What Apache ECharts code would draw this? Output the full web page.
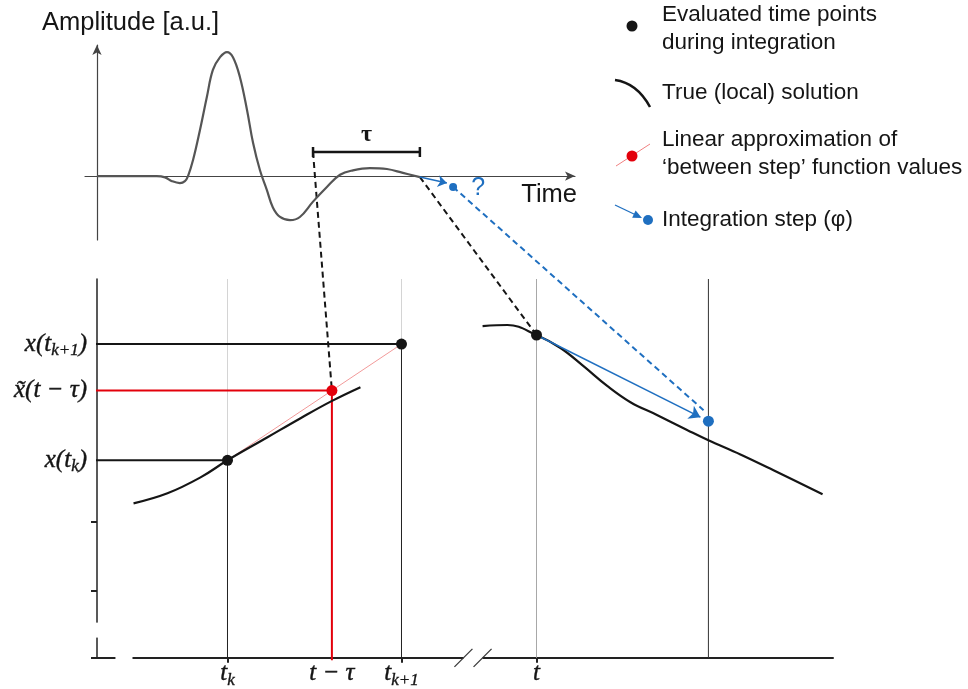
<!DOCTYPE html>
<html>
<head>
<meta charset="utf-8">
<title>Delay integration sketch</title>
<script src="https://cdn.jsdelivr.net/npm/echarts@6/dist/echarts.min.js"></script>
<style>
  html, body { margin: 0; padding: 0; background: #fff; }
  #chart { width: 968px; height: 689px; }
</style>
</head>
<body>
<div id="chart"></div>
<script>
// ---- top panel: the signal (arbitrary time units, amplitude a.u.)
const waveT = [0, 1.4, 2.5, 2.85, 3.14, 3.47, 3.68, 3.81, 4.02, 4.31, 4.60, 4.85, 5.15, 5.44, 5.69, 5.98, 6.28, 6.53, 6.82, 7.11, 7.36, 7.66, 8.08, 8.49, 9.04, 9.62, 10.17, 10.71, 11.42, 12.13, 12.80, 13.51];
const waveA = [0, 0, 0, -0.02, -0.08, -0.11, -0.08, 0, 0.25, 0.72, 1.24, 1.66, 1.86, 1.94, 1.86, 1.55, 1.03, 0.52, 0.09, -0.22, -0.49, -0.64, -0.69, -0.64, -0.40, -0.17, 0.02, 0.09, 0.125, 0.11, 0.05, -0.016];
const tauSpan = [9.04, 13.51];      // t - tau  ...  t
const tauBarA = 0.376;
const nowTop = [13.51, -0.016];
const stepTopTip = [14.64, -0.11];
const stepTopDot = [14.9, -0.17];
const questionAt = [15.95, -0.19];

// ---- bottom panel: zoom on the integration step
const evalT = [1, 2, 2.776];        // t_k, t_k+1, t
const evalX = [1, 2, 2.078];
const delayT = 1.6, delayX = 1.6;   // linear approx at t - tau
const stepT = 3.764, stepX = 1.336; // result of the step
const stepTip = [3.718, 1.371];
const stepDashEnd = [3.736, 1.431];
const leftCurveT = [0.460, 0.655, 0.845, 1.0, 1.230, 1.420, 1.598, 1.764];
const leftCurveX = [0.629, 0.716, 0.853, 1.0, 1.198, 1.362, 1.509, 1.629];
const rightCurveT = [2.466, 2.609, 2.776, 2.914, 3.046, 3.184, 3.316, 3.471, 3.644, 3.764, 3.948, 4.138, 4.420];
const rightCurveX = [2.155, 2.164, 2.078, 1.966, 1.810, 1.638, 1.5, 1.388, 1.259, 1.172, 1.05, 0.914, 0.707];

const xLabelVals = [1, 1.6, 2, 2.776];
const xLabelText = ['{m|t}{s|k}', '{m|t − τ}', '{m|t}{s|k+1}', '{m|t}'];
const xTickVals = [1, 2, 2.776];
const yLabelVals = [1, 1.6, 2];
const yLabelText = ['{m|x(t}{s|k}{m|)}', '{m|x̃(t − τ)}', '{m|x(t}{s|k+1}{m|)}'];
const yTickVals = [-0.7, -0.12, 0.47];
const xAxisGap = [0.356, 0.454];
const xAxisBreak = [2.356, 2.466];
const yAxisGap = [-0.526, -0.397];

const B_XMIN = 0.25, B_XMAX = 4.48, B_YMIN = -0.7, B_YMAX = 2.56;
const LEAD = 0.04; // horizontal guides start a bit left of the y axis

const SANS = '"Liberation Sans", Arial, sans-serif';
const SERIF = '"Liberation Serif", serif';
const BLUE = '#1f6fc0', RED = '#e3000b', INK = '#151515';

const zip = (a, b) => a.map((v, i) => [v, b[i]]);

const chart = echarts.init(document.getElementById('chart'));

function seg(pts, color, width, z, type) {
  return {
    type: 'line', xAxisIndex: 1, yAxisIndex: 1, data: pts, symbol: 'none',
    lineStyle: {color: color, width: width, type: type || 'solid'},
    z: z, silent: true, clip: false
  };
}

function dots(grid, pts, color, size) {
  return {
    type: 'scatter', xAxisIndex: grid, yAxisIndex: grid, data: pts,
    symbolSize: size, itemStyle: {color: color, opacity: 1}, z: 8
  };
}

const richLabel = {
  m: {fontFamily: SERIF, fontStyle: 'italic', fontSize: 25, lineHeight: 30, color: INK,
      textBorderColor: INK, textBorderWidth: 0.4},
  s: {fontFamily: SERIF, fontStyle: 'italic', fontSize: 17, lineHeight: 19, verticalAlign: 'bottom', color: INK,
      textBorderColor: INK, textBorderWidth: 0.35}
};

chart.setOption({
  animation: false,
  grid: [
    {left: 85, right: 393, top: 45, bottom: 449},
    {left: 97, right: 135, top: 279, bottom: 31}
  ],
  xAxis: [
    {
      gridIndex: 0, type: 'value', min: -0.5, max: 20,
      axisLine: {onZero: true, symbol: ['none', 'arrow'], symbolSize: [7, 10], lineStyle: {color: '#444', width: 1.2}},
      axisTick: {show: false}, axisLabel: {show: false}, splitLine: {show: false}
    },
    {
      gridIndex: 1, type: 'value', min: B_XMIN, max: B_XMAX,
      axisLine: {onZero: false, lineStyle: {color: '#222', width: 2}},
      axisTick: {customValues: xTickVals, length: 5, lineStyle: {color: '#222', width: 2}},
      axisLabel: {
        customValues: xLabelVals, margin: 1, rich: richLabel,
        formatter: v => xLabelText[xLabelVals.indexOf(v)] || ''
      },
      splitLine: {show: false}
    }
  ],
  yAxis: [
    {
      gridIndex: 0, type: 'value', min: -1, max: 2.05,
      axisLine: {onZero: true, symbol: ['none', 'arrow'], symbolSize: [7, 10], lineStyle: {color: '#444', width: 1.2}},
      axisTick: {show: false}, axisLabel: {show: false}, splitLine: {show: false}
    },
    {
      gridIndex: 1, type: 'value', min: B_YMIN, max: B_YMAX,
      axisLine: {onZero: false, lineStyle: {color: '#222', width: 1.5}},
      axisTick: {customValues: yTickVals, length: 6, lineStyle: {color: '#222', width: 2}},
      axisLabel: {
        customValues: yLabelVals, margin: 10, rich: richLabel,
        formatter: v => yLabelText[yLabelVals.indexOf(v)] || ''
      },
      splitLine: {show: false}
    }
  ],
  series: [
    // top: waveform
    {
      type: 'line', xAxisIndex: 0, yAxisIndex: 0, data: zip(waveT, waveA),
      smooth: 0.4, symbol: 'none', lineStyle: {color: '#555', width: 2.2}, z: 3
    },
    // top: tau bracket
    {
      type: 'custom', xAxisIndex: 0, yAxisIndex: 0, clip: false, z: 5,
      data: [[tauSpan[0], tauSpan[1], tauBarA]],
      renderItem(params, api) {
        const a = api.coord([api.value(0), api.value(2)]);
        const b = api.coord([api.value(1), api.value(2)]);
        const st = {stroke: INK, lineWidth: 2.5};
        return {type: 'group', children: [
          {type: 'line', shape: {x1: a[0], y1: a[1], x2: b[0], y2: b[1]}, style: st},
          {type: 'line', shape: {x1: a[0], y1: a[1] - 5, x2: a[0], y2: a[1] + 5}, style: st},
          {type: 'line', shape: {x1: b[0], y1: b[1] - 5, x2: b[0], y2: b[1] + 5}, style: st},
          {type: 'text', style: {
            x: (a[0] + b[0]) / 2, y: a[1] - 5, text: 'τ', font: 'bold 24px ' + SERIF, fill: INK,
            align: 'center', verticalAlign: 'bottom', textAlign: 'center', textVerticalAlign: 'bottom'
          }}
        ]};
      }
    },
    // top: step arrow + point
    {
      type: 'lines', coordinateSystem: 'cartesian2d', xAxisIndex: 0, yAxisIndex: 0,
      data: [{coords: [nowTop, stepTopTip]}], symbol: ['none', 'arrow'], symbolSize: 9,
      lineStyle: {color: BLUE, width: 1.5, opacity: 1}, z: 6
    },
    dots(0, [stepTopDot], BLUE, 8),

    // bottom: guide lines
    seg([[evalT[0], B_YMAX], [evalT[0], evalX[0]]], '#d4d4d4', 1, 1),
    seg([[evalT[1], B_YMAX], [evalT[1], evalX[1]]], '#d4d4d4', 1, 1),
    seg([[evalT[2], B_YMAX], [evalT[2], B_YMIN]], '#a8a8a8', 1, 1),
    seg([[evalT[0], evalX[0]], [evalT[0], B_YMIN]], '#222', 1, 2),
    seg([[evalT[1], evalX[1]], [evalT[1], B_YMIN]], '#222', 1, 2),
    seg([[stepT, B_YMAX], [stepT, B_YMIN]], '#333', 1, 2),
    seg([[B_XMIN - LEAD, evalX[0]], [evalT[0], evalX[0]]], INK, 2, 3),
    seg([[B_XMIN - LEAD, evalX[1]], [evalT[1], evalX[1]]], INK, 2, 3),
    seg([[B_XMIN - LEAD, delayX], [delayT, delayX]], RED, 2, 4),
    seg([[delayT, delayX], [delayT, B_YMIN - 0.02]], RED, 2, 4),
    // linear approximation between steps
    seg([[evalT[0], evalX[0]], [evalT[1], evalX[1]]], '#f29a9a', 1, 4),
    // true (local) solutions
    {
      type: 'line', xAxisIndex: 1, yAxisIndex: 1, data: zip(leftCurveT, leftCurveX),
      smooth: 0.4, symbol: 'none', lineStyle: {color: INK, width: 2.2}, z: 5
    },
    {
      type: 'line', xAxisIndex: 1, yAxisIndex: 1, data: zip(rightCurveT, rightCurveX),
      smooth: 0.4, symbol: 'none', lineStyle: {color: INK, width: 2.2}, z: 5
    },
    // integration step arrow
    {
      type: 'lines', coordinateSystem: 'cartesian2d', xAxisIndex: 1, yAxisIndex: 1,
      data: [{coords: [[evalT[2], evalX[2]], stepTip]}], symbol: ['none', 'arrow'], symbolSize: 11,
      lineStyle: {color: BLUE, width: 1.5, opacity: 1}, z: 6
    },
    // points
    dots(1, zip(evalT, evalX), INK, 11),
    dots(1, [[delayT, delayX]], RED, 11),
    dots(1, [[stepT, stepX]], BLUE, 11),
    // axis gaps and the break on the time axis
    {
      type: 'custom', xAxisIndex: 1, yAxisIndex: 1, clip: false, z: 9,
      data: [xAxisGap],
      renderItem(params, api) {
        const a = api.coord([api.value(0), B_YMIN]);
        const b = api.coord([api.value(1), B_YMIN]);
        return {type: 'rect', shape: {x: a[0], y: a[1] - 3, width: b[0] - a[0], height: 6}, style: {fill: '#fff'}};
      }
    },
    {
      type: 'custom', xAxisIndex: 1, yAxisIndex: 1, clip: false, z: 9,
      data: [xAxisBreak],
      renderItem(params, api) {
        const a = api.coord([api.value(0), B_YMIN]);
        const b = api.coord([api.value(1), B_YMIN]);
        const st = {stroke: '#333', lineWidth: 1.2};
        return {type: 'group', children: [
          {type: 'rect', shape: {x: a[0], y: a[1] - 3, width: b[0] - a[0], height: 6}, style: {fill: '#fff'}},
          {type: 'line', shape: {x1: a[0] - 9, y1: a[1] + 9, x2: a[0] + 9, y2: a[1] - 9}, style: st},
          {type: 'line', shape: {x1: b[0] - 9, y1: b[1] + 9, x2: b[0] + 9, y2: b[1] - 9}, style: st}
        ]};
      }
    },
    {
      type: 'custom', xAxisIndex: 1, yAxisIndex: 1, clip: false, z: 9,
      data: [[B_XMIN, yAxisGap[0], yAxisGap[1]]],
      renderItem(params, api) {
        const a = api.coord([B_XMIN, api.value(1)]);
        const b = api.coord([B_XMIN, api.value(2)]);
        return {type: 'rect', shape: {x: a[0] - 3, y: b[1], width: 6, height: a[1] - b[1]}, style: {fill: '#fff'}};
      }
    }
  ]
});

// connectors between the two panels and the legend
const toTop = pt => chart.convertToPixel({gridIndex: 0}, pt);
const toBot = pt => chart.convertToPixel({gridIndex: 1}, pt);

const connectors = [
  {from: toTop([tauSpan[0], tauBarA]), to: toBot([delayT, delayX]), color: INK},
  {from: toTop(nowTop), to: toBot([evalT[2], evalX[2]]), color: INK},
  {from: toTop(stepTopDot), to: toBot(stepDashEnd), color: BLUE}
];

function arrowHead(x1, y1, x2, y2, len, half) {
  const d = Math.hypot(x2 - x1, y2 - y1), ux = (x2 - x1) / d, uy = (y2 - y1) / d;
  const bx = x2 - ux * len, by = y2 - uy * len;
  return [[x2, y2], [bx - uy * half, by + ux * half], [bx + uy * half, by - ux * half]];
}

function txt(x, y, text, size, color, align, vAlign, lh) {
  return {type: 'text', z: 20, style: {
    x: x, y: y, text: text, font: size + 'px ' + SANS, fill: color || INK,
    lineHeight: lh, textAlign: align || 'left', textVerticalAlign: vAlign || 'middle',
    align: align || 'left', verticalAlign: vAlign || 'middle'
  }};
}

const q = toTop(questionAt);

chart.setOption({
  graphic: [
    ...connectors.map(c => ({
      type: 'line', z: 1,
      shape: {x1: c.from[0], y1: c.from[1], x2: c.to[0], y2: c.to[1]},
      style: {stroke: c.color, lineWidth: 2, lineDash: [6, 4]}
    })),
    txt(42, 23, 'Amplitude [a.u.]', 25.5),
    txt(577, 195, 'Time', 25.5, INK, 'right'),
    txt(q[0], q[1], '?', 25, BLUE, 'center'),

    // legend
    {type: 'circle', z: 20, shape: {cx: 632, cy: 26, r: 5.5}, style: {fill: INK}},
    txt(662, 1, 'Evaluated time points\nduring integration', 22.5, INK, 'left', 'top', 28),
    {type: 'bezierCurve', z: 20, shape: {x1: 615, y1: 80, x2: 650, y2: 107, cpx1: 637, cpy1: 83}, style: {stroke: INK, lineWidth: 2.5, fill: null}},
    txt(662, 93, 'True (local) solution', 22.5),
    {type: 'line', z: 20, shape: {x1: 616, y1: 166, x2: 650, y2: 144}, style: {stroke: '#f08080', lineWidth: 1}},
    {type: 'circle', z: 21, shape: {cx: 632, cy: 156, r: 5.5}, style: {fill: RED}},
    txt(662, 126, 'Linear approximation of\n‘between step’ function values', 22.5, INK, 'left', 'top', 28),
    {type: 'line', z: 20, shape: {x1: 615, y1: 205, x2: 636, y2: 215}, style: {stroke: BLUE, lineWidth: 1.3}},
    {type: 'polygon', z: 20, shape: {points: arrowHead(615, 205, 642, 218, 9, 4)}, style: {fill: BLUE}},
    {type: 'circle', z: 20, shape: {cx: 648, cy: 220, r: 5}, style: {fill: BLUE}},
    txt(662, 220, 'Integration step (φ)', 22.5)
  ]
});
</script>
</body>
</html>
